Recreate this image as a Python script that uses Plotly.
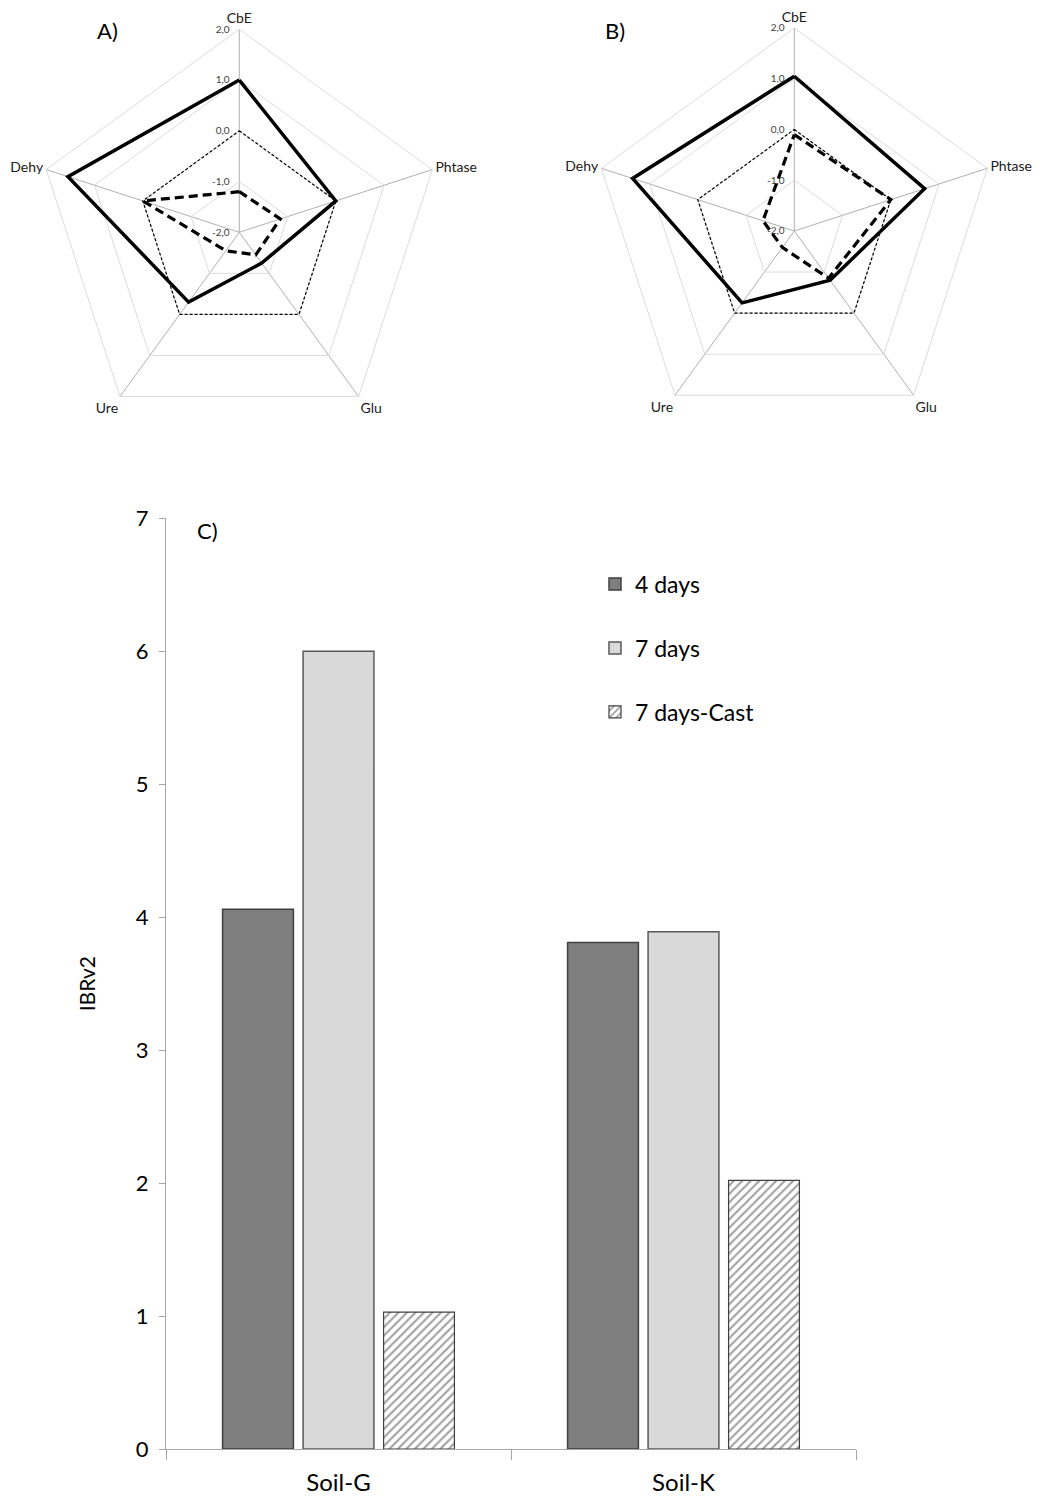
import plotly.graph_objects as go

# ---------------- data ----------------
radar_axes = ["CbE", "Phtase", "Glu", "Ure", "Dehy"]
a_solid = [1.0, 0.0, -1.25, -0.3, 1.55]
a_dashed = [-1.2, -1.15, -1.45, -1.55, 0.0]
a_zero = [0.0, 0.0, 0.0, 0.0, 0.0]
b_solid = [1.05, 0.7, -0.8, -0.25, 1.35]
b_dashed = [-0.1, 0.0, -0.85, -1.6, -1.35]
b_zero = [0.0, 0.0, 0.0, 0.0, 0.0]
radial_ticks = [-2, -1, 0, 1, 2]
radial_ticktext = ["-2,0", "-1,0", "0,0", "1,0", "2,0"]

soils = ["Soil-G", "Soil-K"]
days4 = [4.06, 3.81]
days7 = [6.0, 3.89]
days7_cast = [1.03, 2.02]

FONT = "Lato"


def closed(v):
    return list(v) + [v[0]]


fig = go.Figure()

# ---------------- radar charts ----------------
for sub, zero, solid, dashed in [("polar", a_zero, a_solid, a_dashed),
                                  ("polar2", b_zero, b_solid, b_dashed)]:
    th = closed(radar_axes)
    fig.add_trace(go.Scatterpolar(r=closed(zero), theta=th, mode="lines", subplot=sub,
                                  line=dict(color="black", width=1.2, dash="3px,2px"),
                                  showlegend=False, hoverinfo="skip"))
    fig.add_trace(go.Scatterpolar(r=closed(dashed), theta=th, mode="lines", subplot=sub,
                                  line=dict(color="black", width=3.2, dash="9px,5px"),
                                  showlegend=False, hoverinfo="skip"))
    fig.add_trace(go.Scatterpolar(r=closed(solid), theta=th, mode="lines", subplot=sub,
                                  line=dict(color="black", width=3.5),
                                  showlegend=False, hoverinfo="skip"))

polar_common = dict(
    gridshape="linear",
    bgcolor="white",
    radialaxis=dict(range=[-2, 2], tickvals=radial_ticks,
                    ticktext=[t + "\u00a0\u00a0\u00a0" for t in radial_ticktext],
                    angle=90, tickangle=90, side="counterclockwise", showline=False,
                    gridcolor="#dcdcdc",
                    ticks="", tickfont=dict(family=FONT, size=10, color="#404040")),
    angularaxis=dict(direction="clockwise", rotation=90, gridcolor="#b0b0b0",
                     linecolor="#dcdcdc", ticks="", categoryorder="array",
                     categoryarray=radar_axes,
                     tickfont=dict(family=FONT, size=14, color="#202020")),
)

W, H = 1040, 1501


def px_dom(cx, cy, r):
    return dict(x=[(cx - r) / W, (cx + r) / W], y=[1 - (cy + r) / H, 1 - (cy - r) / H])


pa = dict(polar_common)
pa["domain"] = px_dom(239.3, 232.3, 203)
pb = dict(polar_common)
pb["domain"] = px_dom(794.3, 231.0, 203)

# ---------------- bar chart ----------------
fig.add_trace(go.Bar(x=soils, y=days4, name="4 days", xaxis="x", yaxis="y",
                     marker=dict(color="#7f7f7f", line=dict(color="#404040", width=1.5)),
                     legend="legend"))
fig.add_trace(go.Bar(x=soils, y=days7, name="7 days", xaxis="x", yaxis="y",
                     marker=dict(color="#d9d9d9", line=dict(color="#595959", width=1.5)),
                     legend="legend2"))
fig.add_trace(go.Bar(x=soils, y=days7_cast, name="7 days-Cast", xaxis="x", yaxis="y",
                     marker=dict(color="white", line=dict(color="#404040", width=1.2),
                                 pattern=dict(shape="/", fgcolor="#404040", bgcolor="white",
                                              size=6, solidity=0.35)),
                     legend="legend3"))

leg_common = dict(font=dict(family=FONT, size=23, color="black"), bgcolor="rgba(0,0,0,0)",
                  xanchor="left", yanchor="middle", x=(636 - 41) / W, itemwidth=30)

fig.update_layout(
    width=W, height=H,
    margin=dict(l=0, r=0, t=0, b=0, pad=0, autoexpand=False),
    paper_bgcolor="white", plot_bgcolor="white",
    font=dict(family=FONT, color="black"),
    polar=pa, polar2=pb,
    barmode="group", bargap=0.30, bargroupgap=0.12,
    xaxis=dict(domain=[166 / W, 856 / W], anchor="y", showline=True, linecolor="#a6a6a6",
               ticks="outside", tickson="boundaries", ticklen=10, tickcolor="#a6a6a6",
               ticklabelstandoff=12, automargin=False,
               tickfont=dict(family=FONT, size=24, color="black"), showgrid=False),
    yaxis=dict(domain=[1 - 1449 / H, 1 - 518.3 / H], anchor="x", range=[0, 7], dtick=1,
               showline=True, linecolor="#a6a6a6", ticks="outside", ticklen=6,
               tickcolor="#a6a6a6", showgrid=False, zeroline=False, ticklabelstandoff=6,
               automargin=False,
               tickfont=dict(family=FONT, size=22, color="black"),
               title=dict(text="IBRv2", font=dict(family=FONT, size=21, color="black"),
                          standoff=34)),
    legend=dict(leg_common, y=1 - 584 / H),
    legend2=dict(leg_common, y=1 - 648 / H),
    legend3=dict(leg_common, y=1 - 712 / H),
    annotations=[
        dict(text="A)", x=107 / W, y=1 - 30 / H, xref="paper", yref="paper",
             xanchor="center", yanchor="middle",
             showarrow=False, font=dict(family=FONT, size=22, color="black")),
        dict(text="B)", x=615 / W, y=1 - 30 / H, xref="paper", yref="paper",
             xanchor="center", yanchor="middle",
             showarrow=False, font=dict(family=FONT, size=22, color="black")),
        dict(text="C)", x=207 / W, y=1 - 530 / H, xref="paper", yref="paper",
             xanchor="center", yanchor="middle",
             showarrow=False, font=dict(family=FONT, size=22, color="black")),
    ],
)

fig.write_html("out.html", config={"displayModeBar": False},
               post_script="document.documentElement.style.margin='0';"
                           "document.body.style.margin='0';document.body.style.padding='0';")
